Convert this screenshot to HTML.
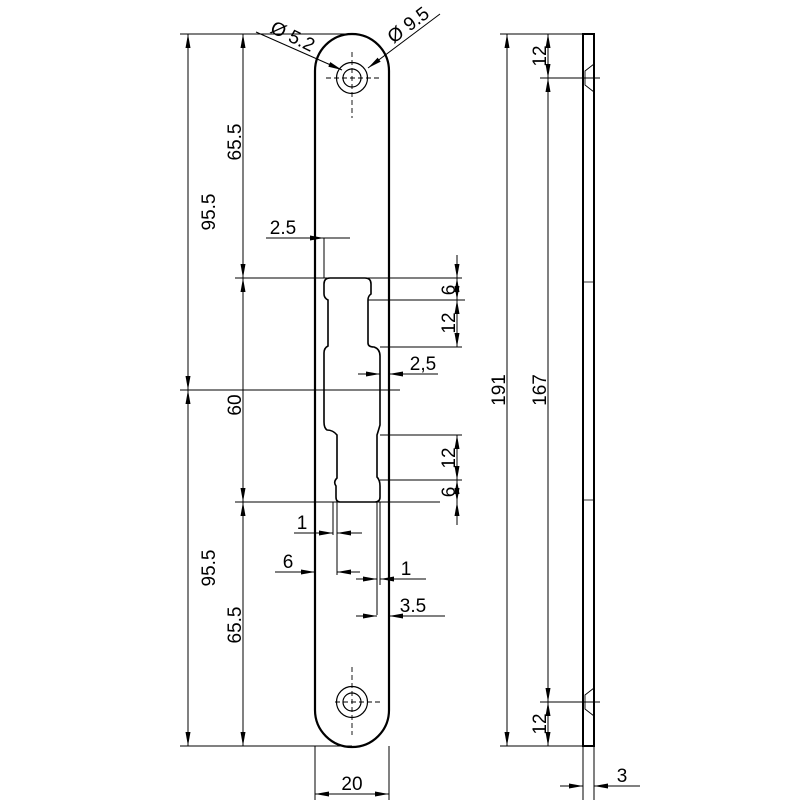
<!DOCTYPE html>
<html><head><meta charset="utf-8"><style>
html,body{margin:0;padding:0;background:#fff;}
svg{display:block;}
text{font-family:"Liberation Sans",sans-serif;font-size:19px;fill:#000;}
</style></head><body>
<svg width="800" height="800" viewBox="0 0 800 800" xmlns="http://www.w3.org/2000/svg">
<defs>
<marker id="a" viewBox="0 0 14 5" refX="14" refY="2.5" markerWidth="14" markerHeight="5" orient="auto-start-reverse" markerUnits="userSpaceOnUse">
<path d="M0,0 L14,2.5 L0,5 z" fill="#000"/></marker>
</defs>
<g stroke="#000" fill="none">
<path d="M315,71 A37,37 0 0 1 389,71 L389,710 A37,37 0 0 1 315,710 Z" stroke-width="2.2"/>
<circle cx="352" cy="78" r="15.5" stroke-width="1.2"/>
<circle cx="352" cy="78" r="9" stroke-width="1.2"/>
<circle cx="352" cy="702" r="15.5" stroke-width="1.2"/>
<circle cx="352" cy="702" r="9" stroke-width="1.2"/>
<g stroke-width="0.9" stroke-dasharray="5,3">
<line x1="352" y1="52" x2="352" y2="118"/><line x1="326" y1="78" x2="382" y2="78"/>
<line x1="352" y1="667" x2="352" y2="735"/><line x1="335" y1="702" x2="380" y2="702"/>
</g>
<path d="M330,278 L365,278 Q371,278 371,284 L371,294 Q368,296 368,300 L368,343 Q368,347 374,347 Q380,349 380,356 L380,425 Q378,432 377,435 L377,477 Q380,480 380,486 L380,497 Q380,502 375,502 L340,502 Q336,502 336,497 L336,486 Q333,482 337,478 L337,435 Q333,430 327,430 Q324,428 324,422 L324,353 Q324,348 328,346 L328,300 Q324,298 324,294 L324,284 Q324,278 330,278 Z" stroke-width="1.6"/>
<rect x="583" y="34" width="11" height="712" stroke-width="2"/>
<line x1="583" y1="282" x2="594" y2="282" stroke-width="0.8"/>
<line x1="583" y1="500" x2="594" y2="500" stroke-width="0.8"/>
<g stroke-width="0.9">
<path d="M594,64 L585,71 L585,85 L594,92"/>
<path d="M594,688 L585,695 L585,709 L594,716"/>
</g>
<g stroke-width="1">
<line x1="180" y1="34" x2="352" y2="34"/>
<line x1="180" y1="390" x2="400" y2="390"/>
<line x1="180" y1="746" x2="352" y2="746"/>
<line x1="235" y1="278" x2="462" y2="278"/>
<line x1="235" y1="502" x2="440" y2="502"/>
<line x1="368" y1="300" x2="465" y2="300"/>
<line x1="380" y1="347" x2="462" y2="347"/>
<line x1="380" y1="435" x2="462" y2="435"/>
<line x1="380" y1="480" x2="462" y2="480"/>
<line x1="500" y1="34" x2="594" y2="34"/>
<line x1="540" y1="78" x2="600" y2="78"/>
<line x1="540" y1="702" x2="600" y2="702"/>
<line x1="500" y1="746" x2="594" y2="746"/>
<line x1="315" y1="746" x2="315" y2="800"/>
<line x1="389" y1="746" x2="389" y2="800"/>
<line x1="583" y1="746" x2="583" y2="800"/>
<line x1="594" y1="746" x2="594" y2="800"/>
<line x1="333" y1="502" x2="333" y2="535"/>
<line x1="337" y1="502" x2="337" y2="575"/>
<line x1="377" y1="502" x2="377" y2="615"/>
<line x1="380" y1="502" x2="380" y2="585"/>
<line x1="324" y1="278" x2="324" y2="238"/>
<line x1="256" y1="32" x2="342" y2="70" marker-end="url(#a)"/>
<line x1="440" y1="14" x2="368" y2="68" marker-end="url(#a)"/>
</g>
<g stroke-width="1">
<line x1="188" y1="34" x2="188" y2="390" marker-start="url(#a)" marker-end="url(#a)"/>
<line x1="188" y1="390" x2="188" y2="746" marker-start="url(#a)" marker-end="url(#a)"/>
<line x1="243" y1="34" x2="243" y2="278" marker-start="url(#a)" marker-end="url(#a)"/>
<line x1="243" y1="278" x2="243" y2="502" marker-start="url(#a)" marker-end="url(#a)"/>
<line x1="243" y1="502" x2="243" y2="746" marker-start="url(#a)" marker-end="url(#a)"/>
<line x1="457" y1="255" x2="457" y2="278" marker-end="url(#a)"/>
<line x1="457" y1="278" x2="457" y2="300" marker-start="url(#a)" marker-end="url(#a)"/>
<line x1="457" y1="300" x2="457" y2="347" marker-start="url(#a)" marker-end="url(#a)"/>
<line x1="457" y1="435" x2="457" y2="480" marker-start="url(#a)" marker-end="url(#a)"/>
<line x1="457" y1="480" x2="457" y2="502" marker-start="url(#a)" marker-end="url(#a)"/>
<line x1="457" y1="525" x2="457" y2="502" marker-end="url(#a)"/>
<line x1="507" y1="34" x2="507" y2="746" marker-start="url(#a)" marker-end="url(#a)"/>
<line x1="548" y1="78" x2="548" y2="702" marker-start="url(#a)" marker-end="url(#a)"/>
<line x1="548" y1="34" x2="548" y2="78" marker-start="url(#a)" marker-end="url(#a)"/>
<line x1="548" y1="702" x2="548" y2="746" marker-start="url(#a)" marker-end="url(#a)"/>
<line x1="315" y1="794" x2="389" y2="794" marker-start="url(#a)" marker-end="url(#a)"/>
<line x1="560" y1="786" x2="583" y2="786" marker-end="url(#a)"/>
<line x1="640" y1="786" x2="594" y2="786" marker-end="url(#a)"/>
<line x1="266" y1="238" x2="324" y2="238" marker-end="url(#a)"/>
<line x1="350" y1="238" x2="324" y2="238"/>
<line x1="358" y1="374" x2="380" y2="374" marker-end="url(#a)"/>
<line x1="438" y1="374" x2="389" y2="374" marker-end="url(#a)"/>
<line x1="294" y1="533" x2="333" y2="533" marker-end="url(#a)"/>
<line x1="362" y1="533" x2="337" y2="533" marker-end="url(#a)"/>
<line x1="275" y1="572" x2="315" y2="572" marker-end="url(#a)"/>
<line x1="360" y1="572" x2="337" y2="572" marker-end="url(#a)"/>
<line x1="356" y1="579" x2="377" y2="579" marker-end="url(#a)"/>
<line x1="426" y1="579" x2="380" y2="579" marker-end="url(#a)"/>
<line x1="356" y1="616" x2="377" y2="616" marker-end="url(#a)"/>
<line x1="445" y1="616" x2="389" y2="616" marker-end="url(#a)"/>
</g>
</g>
<text transform="translate(215,212) rotate(-90)" text-anchor="middle">95.5</text>
<text transform="translate(215,568) rotate(-90)" text-anchor="middle">95.5</text>
<text transform="translate(241,142) rotate(-90)" text-anchor="middle">65.5</text>
<text transform="translate(241,405) rotate(-90)" text-anchor="middle">60</text>
<text transform="translate(241,625) rotate(-90)" text-anchor="middle">65.5</text>
<text transform="translate(455,290) rotate(-90)" text-anchor="middle">6</text>
<text transform="translate(455,323) rotate(-90)" text-anchor="middle">12</text>
<text transform="translate(455,458) rotate(-90)" text-anchor="middle">12</text>
<text transform="translate(455,492) rotate(-90)" text-anchor="middle">6</text>
<text transform="translate(505,390) rotate(-90)" text-anchor="middle">191</text>
<text transform="translate(546,390) rotate(-90)" text-anchor="middle">167</text>
<text transform="translate(546,56) rotate(-90)" text-anchor="middle">12</text>
<text transform="translate(546,724) rotate(-90)" text-anchor="middle">12</text>
<text x="352" y="790" text-anchor="middle">20</text>
<text x="622" y="782" text-anchor="middle">3</text>
<text x="283" y="234" text-anchor="middle">2.5</text>
<text x="423" y="370" text-anchor="middle">2,5</text>
<text x="302" y="529" text-anchor="middle">1</text>
<text x="288" y="568" text-anchor="middle">6</text>
<text x="406" y="575" text-anchor="middle">1</text>
<text x="413" y="612" text-anchor="middle">3.5</text>
<text transform="translate(290,42) rotate(26)" text-anchor="middle">Ø 5.2</text>
<text transform="translate(412,30) rotate(-37)" text-anchor="middle">Ø 9.5</text>
</svg>
</body></html>
